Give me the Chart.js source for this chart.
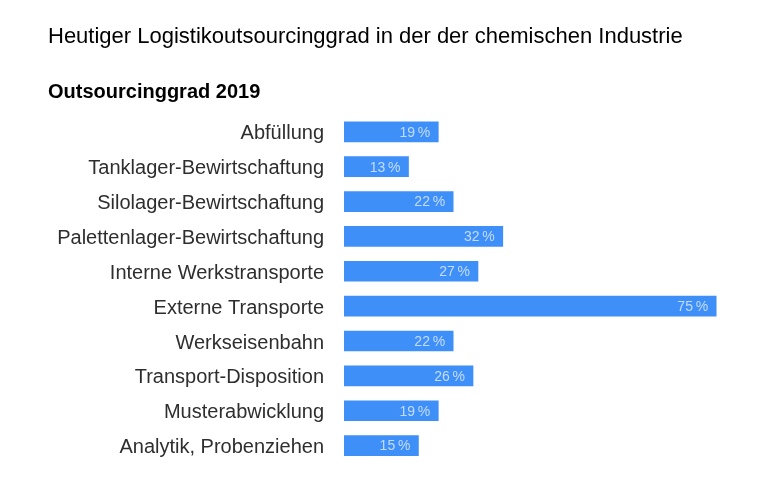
<!DOCTYPE html>
<html>
<head>
<meta charset="utf-8">
<script src="https://cdn.jsdelivr.net/npm/chart.js@4"></script>
<style>
  body { margin: 0; background: #fff; }
  #wrap { width: 760px; height: 482px; }
</style>
</head>
<body>
<div id="wrap"><canvas id="chart"></canvas></div>
<script>
// Kategorien und Werte (Outsourcinggrad 2019 in %)
const categories = [
    'Abfüllung',
    'Tanklager-Bewirtschaftung',
    'Silolager-Bewirtschaftung',
    'Palettenlager-Bewirtschaftung',
    'Interne Werkstransporte',
    'Externe Transporte',
    'Werkseisenbahn',
    'Transport-Disposition',
    'Musterabwicklung',
    'Analytik, Probenziehen'
];
const values2019 = [19, 13, 22, 32, 27, 75, 22, 26, 19, 15];

const titleText = 'Heutiger Logistikoutsourcinggrad in der der chemischen Industrie';
const subtitleText = 'Outsourcinggrad 2019';

const fontFamily = '"Liberation Sans", Arial, Helvetica, sans-serif';

// Beschriftung der Balken (Werte rechts im Balken)
const valueLabels = {
    id: 'valueLabels',
    afterDatasetsDraw(chart) {
        const ctx = chart.ctx;
        const meta = chart.getDatasetMeta(0);
        ctx.save();
        ctx.font = '14px ' + fontFamily;
        ctx.fillStyle = 'rgba(255,255,255,0.68)';
        ctx.textAlign = 'right';
        ctx.textBaseline = 'middle';
        meta.data.forEach(function(bar, i) {
            ctx.fillText(values2019[i] + '\u2009%', bar.x - 8, bar.y + 1);
        });
        ctx.restore();
    }
};

const ctx = document.getElementById('chart');
new Chart(ctx, {
    type: 'bar',
    data: {
        labels: categories,
        datasets: [{
            data: values2019,
            backgroundColor: '#3f8ff8',
            barThickness: 20
        }]
    },
    options: {
        indexAxis: 'y',
        responsive: true,
        maintainAspectRatio: false,
        animation: false,
        layout: { padding: { left: 48, right: 19, top: 0, bottom: 19 } },
        plugins: {
            legend: { display: false },
            tooltip: { enabled: false },
            title: {
                display: true,
                text: titleText,
                align: 'start',
                color: '#000',
                font: { family: fontFamily, size: 22, weight: 'normal' },
                padding: { top: 24, bottom: 30 }
            },
            subtitle: {
                display: true,
                text: subtitleText,
                align: 'start',
                color: '#000',
                font: { family: fontFamily, size: 20, weight: 'bold' },
                padding: { top: 0, bottom: 10 }
            }
        },
        scales: {
            x: {
                display: false,
                min: 0,
                max: 80
            },
            y: {
                grid: { display: false, drawTicks: false },
                border: { display: false },
                ticks: {
                    color: '#2e2e2e',
                    padding: 20,
                    labelOffset: 2,
                    font: { family: fontFamily, size: 20 }
                },
                afterFit: function(scale) {
                    scale.width = 296;
                    scale.paddingTop = 0;
                    scale.paddingBottom = 0;
                }
            }
        }
    },
    plugins: [valueLabels]
});
</script>
</body>
</html>
